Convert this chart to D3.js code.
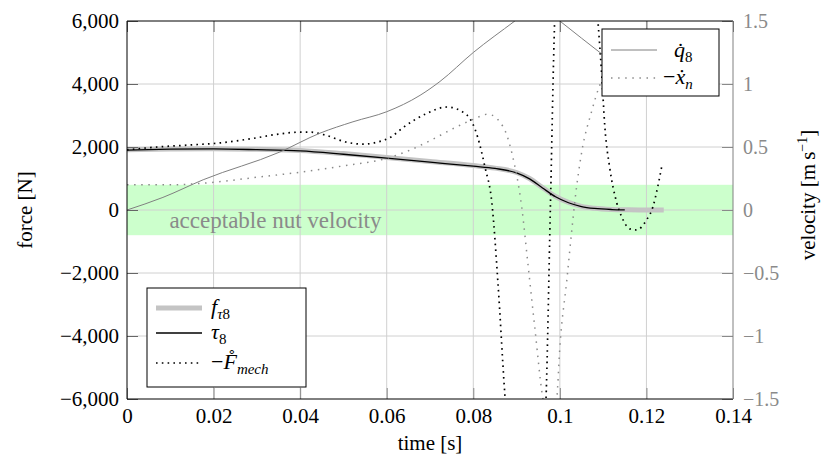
<!DOCTYPE html>
<html>
<head>
<meta charset="utf-8">
<script src="https://cdn.jsdelivr.net/npm/d3@7"></script>
<style>
  body { margin: 0; background: #fff; }
  svg { font-family: "Liberation Serif", serif; }
</style>
</head>
<body>
<svg id="chart" width="826" height="459"></svg>
<script>
// axis ticks
var timeTicks  = [0, 0.02, 0.04, 0.06, 0.08, 0.1, 0.12, 0.14];
var forceTicks = [-6000, -4000, -2000, 0, 2000, 4000, 6000];
var velTicks   = [-1.5, -1, -0.5, 0, 0.5, 1, 1.5];
var bandVel    = [-0.2, 0.2];   // acceptable nut velocity

// f_tau8 (left axis, N)
var fTauTime = [0, 0.01, 0.02, 0.03, 0.04, 0.05, 0.06, 0.07, 0.08, 0.085, 0.09, 0.093, 0.096, 0.099, 0.102, 0.105, 0.108, 0.112, 0.116, 0.12, 0.124];
var fTau     = [1910, 1935, 1945, 1925, 1890, 1790, 1670, 1540, 1410, 1330, 1190, 1000, 710, 430, 240, 115, 55, 18, 6, 0, 0];

// tau8 (left axis, N)
var tauTime = [0, 0.01, 0.02, 0.03, 0.04, 0.05, 0.06, 0.07, 0.08, 0.085, 0.09, 0.093, 0.096, 0.099, 0.102, 0.105, 0.108, 0.112, 0.115];
var tau     = [1900, 1930, 1940, 1915, 1875, 1770, 1650, 1520, 1390, 1320, 1180, 990, 700, 420, 230, 110, 50, 15, 5];

// -F_mech (left axis, N)
var fMechTime = [0, 0.007, 0.014, 0.0215, 0.029, 0.035, 0.0395, 0.0425, 0.046, 0.0505, 0.0545, 0.058, 0.061, 0.064, 0.069, 0.0739, 0.0785, 0.081, 0.0827, 0.0843, 0.0857, 0.0873, 0.089, 0.092, 0.095, 0.0968, 0.0978, 0.0988, 0.1005, 0.104, 0.107, 0.1088, 0.1097, 0.1104, 0.1115, 0.1131, 0.1143, 0.1162, 0.1177, 0.12, 0.1215, 0.1226, 0.1236];
var fMech     = [1910, 2000, 2060, 2130, 2270, 2410, 2470, 2470, 2370, 2160, 2090, 2160, 2320, 2640, 3050, 3270, 3020, 2320, 1360, 220, -2320, -5870, -8500, -10500, -9500, -6000, 0, 6000, 9500, 11000, 9000, 6000, 4220, 2630, 1360, 250, -220, -600, -635, -320, 100, 730, 1430];

// q8 dot (right axis, m/s)
var qTime = [0, 0.0083, 0.0176, 0.0353, 0.0446, 0.0522, 0.06, 0.0677, 0.0723, 0.08, 0.0896, 0.095, 0.1, 0.11, 0.116];
var qDot  = [0, 0.10, 0.24, 0.46, 0.61, 0.70, 0.78, 0.91, 1.02, 1.25, 1.5, 1.64, 1.5, 1.23, 1.07];

// -x_n dot (right axis, m/s)
var xTime = [0, 0.01, 0.02, 0.03, 0.04, 0.05, 0.06, 0.065, 0.07, 0.075, 0.08, 0.0834, 0.0869, 0.089, 0.0912, 0.0926, 0.0942, 0.096, 0.098, 0.0993, 0.1, 0.1016, 0.1027, 0.1035, 0.105, 0.1074, 0.109, 0.112];
var xDot  = [0.2, 0.2, 0.22, 0.26, 0.30, 0.35, 0.41, 0.47, 0.55, 0.64, 0.72, 0.76, 0.66, 0.44, 0.02, -0.42, -0.93, -1.48, -1.75, -1.5, -1.09, -0.56, -0.18, 0.08, 0.45, 0.79, 0.97, 1.15];

var margin = {top: 21, right: 93, bottom: 60, left: 127};
var width  = 826 - margin.left - margin.right;
var height = 459 - margin.top - margin.bottom;

var svg = d3.select("#chart");
var g = svg.append("g").attr("transform", "translate(" + margin.left + "," + margin.top + ")");

var x  = d3.scaleLinear().domain([0, 0.14]).range([0, width]);
var yF = d3.scaleLinear().domain([-6000, 6000]).range([height, 0]);
var yV = d3.scaleLinear().domain([-1.5, 1.5]).range([height, 0]);

svg.append("defs").append("clipPath").attr("id", "clip")
  .append("rect").attr("width", width).attr("height", height);

// green band
g.append("rect")
  .attr("x", 0).attr("width", width)
  .attr("y", yV(bandVel[1]))
  .attr("height", yV(bandVel[0]) - yV(bandVel[1]))
  .attr("fill", "#ccffcc");

// grid
g.selectAll(".vgrid").data(timeTicks.slice(1, -1)).enter().append("line")
  .attr("x1", d => x(d)).attr("x2", d => x(d))
  .attr("y1", 0).attr("y2", height)
  .attr("stroke", "#d0d0d0").attr("stroke-width", 1);
g.selectAll(".hgrid").data(forceTicks.slice(1, -1)).enter().append("line")
  .attr("y1", d => yF(d)).attr("y2", d => yF(d))
  .attr("x1", 0).attr("x2", width)
  .attr("stroke", "#d0d0d0").attr("stroke-width", 1);

g.append("text")
  .attr("x", x(0.0098)).attr("y", yV(-0.14))
  .attr("font-size", 23).attr("fill", "#8a8a8a")
  .text("acceptable nut velocity");

// series
function pts(ts, vs) { return ts.map((t, i) => [t, vs[i]]); }

var lineF = d3.line().x(d => x(d[0])).y(d => yF(d[1])).curve(d3.curveMonotoneX);
var lineV = d3.line().x(d => x(d[0])).y(d => yV(d[1])).curve(d3.curveMonotoneX);

var plot = g.append("g").attr("clip-path", "url(#clip)");

plot.append("path").attr("d", lineF(pts(fTauTime, fTau)))
  .attr("fill", "none").attr("stroke", "#c4c4c4").attr("stroke-width", 5);
plot.append("path").attr("d", lineF(pts(tauTime, tau)))
  .attr("fill", "none").attr("stroke", "#000").attr("stroke-width", 1.3);
plot.append("path").attr("d", lineF(pts(fMechTime, fMech)))
  .attr("fill", "none").attr("stroke", "#000").attr("stroke-width", 1.7)
  .attr("stroke-dasharray", "1.6 4.2");
plot.append("path").attr("d", lineV(pts(qTime, qDot)))
  .attr("fill", "none").attr("stroke", "#808080").attr("stroke-width", 1);
plot.append("path").attr("d", lineV(pts(xTime, xDot)))
  .attr("fill", "none").attr("stroke", "#8a8a8a").attr("stroke-width", 1.5)
  .attr("stroke-dasharray", "1.5 5.6");

// axes
var fmtF = d3.format(",");
var fmtV = d3.format("~g");

var ax = g.append("g");

var leftAxis = ax.append("g").call(d3.axisLeft(yF).tickValues(forceTicks).tickFormat(fmtF).tickSize(-11).tickSizeOuter(0).tickPadding(8));
leftAxis.selectAll(".tick line").attr("stroke", "#666");
leftAxis.selectAll("text").attr("font-family", "Liberation Serif").attr("font-size", 21).attr("fill", "#000");

var rightAxis = ax.append("g").attr("transform", "translate(" + width + ",0)")
  .call(d3.axisRight(yV).tickValues(velTicks).tickFormat(fmtV).tickSize(-11).tickSizeOuter(0).tickPadding(10));
rightAxis.selectAll(".tick line").attr("stroke", "#8a8a8a");
rightAxis.selectAll("text").attr("font-family", "Liberation Serif").attr("font-size", 20).attr("fill", "#8a8a8a");

var bottomAxis = ax.append("g").attr("transform", "translate(0," + height + ")")
  .call(d3.axisBottom(x).tickValues(timeTicks).tickFormat(fmtV).tickSize(-11).tickSizeOuter(0).tickPadding(9));
bottomAxis.selectAll(".tick line").attr("stroke", "#888");
bottomAxis.selectAll("text").attr("font-family", "Liberation Serif").attr("font-size", 21).attr("fill", "#000");

var topAxis = ax.append("g")
  .call(d3.axisTop(x).tickValues(timeTicks).tickFormat("").tickSize(-11).tickSizeOuter(0));
topAxis.selectAll(".tick line").attr("stroke", "#666");

ax.selectAll(".domain").remove();

// frame
g.append("line").attr("x1", 0).attr("x2", width).attr("y1", 0).attr("y2", 0).attr("stroke", "#000");
g.append("line").attr("x1", 0).attr("x2", width).attr("y1", height).attr("y2", height).attr("stroke", "#000");
g.append("line").attr("x1", 0).attr("x2", 0).attr("y1", 0).attr("y2", height).attr("stroke", "#000");
g.append("line").attr("x1", width).attr("x2", width).attr("y1", 0).attr("y2", height).attr("stroke", "#808080");

// axis titles
g.append("text")
  .attr("x", width / 2).attr("y", height + 51)
  .attr("text-anchor", "middle").attr("font-size", 21)
  .text("time [s]");

g.append("text")
  .attr("transform", "translate(-95," + (height / 2) + ") rotate(-90)")
  .attr("text-anchor", "middle").attr("font-size", 21)
  .text("force [N]");

var vl = g.append("text")
  .attr("transform", "translate(" + (width + 82) + "," + (height / 2 - 15) + ") rotate(-90)")
  .attr("text-anchor", "middle").attr("font-size", 21);
vl.append("tspan").text("velocity [m\u2009s");
vl.append("tspan").attr("font-size", 14).attr("dy", -8).text("\u22121");
vl.append("tspan").attr("dy", 8).text("]");

// legend: bottom left
var lg1 = g.append("g").attr("transform", "translate(20,267)");
lg1.append("rect").attr("width", 159).attr("height", 99)
  .attr("fill", "#fff").attr("stroke", "#000").attr("stroke-width", 1);

function sample(grp, y, stroke, sw, dash) {
  var l = grp.append("line").attr("x1", 9).attr("x2", 55).attr("y1", y).attr("y2", y)
    .attr("stroke", stroke).attr("stroke-width", sw);
  if (dash) l.attr("stroke-dasharray", dash);
}

sample(lg1, 20, "#c4c4c4", 5);
sample(lg1, 45, "#000", 1.3);
sample(lg1, 75, "#000", 1.7, "1.6 4.2");

var t1 = lg1.append("text").attr("x", 64).attr("y", 26).attr("font-size", 22);
t1.append("tspan").attr("font-style", "italic").text("f");
t1.append("tspan").attr("font-size", 15).attr("dy", 5).attr("font-style", "italic").text("\u03c4");
t1.append("tspan").attr("font-size", 15).text("8");

var t2 = lg1.append("text").attr("x", 64).attr("y", 51).attr("font-size", 22);
t2.append("tspan").attr("font-style", "italic").text("\u03c4");
t2.append("tspan").attr("font-size", 15).attr("dy", 5).text("8");

var t3 = lg1.append("text").attr("x", 64).attr("y", 81).attr("font-size", 22);
t3.append("tspan").text("\u2212");
t3.append("tspan").attr("font-style", "italic").text("F\u030a");
t3.append("tspan").attr("font-size", 15).attr("dy", 5).attr("font-style", "italic").text("mech");

// legend: top right
var lg2 = g.append("g").attr("transform", "translate(475,8)");
lg2.append("rect").attr("width", 117).attr("height", 67)
  .attr("fill", "#fff").attr("stroke", "#000").attr("stroke-width", 1);

sample(lg2, 21, "#808080", 1);
sample(lg2, 49, "#8a8a8a", 1.5, "1.5 5.6");

var t4 = lg2.append("text").attr("x", 72).attr("y", 28).attr("font-size", 22);
t4.append("tspan").attr("font-style", "italic").text("q\u0307");
t4.append("tspan").attr("font-size", 15).attr("dy", 5).text("8");

var t5 = lg2.append("text").attr("x", 61).attr("y", 55).attr("font-size", 22);
t5.append("tspan").text("\u2212");
t5.append("tspan").attr("font-style", "italic").text("\u1e8b");
t5.append("tspan").attr("font-size", 15).attr("dy", 5).attr("font-style", "italic").text("n");
</script>
</body>
</html>
